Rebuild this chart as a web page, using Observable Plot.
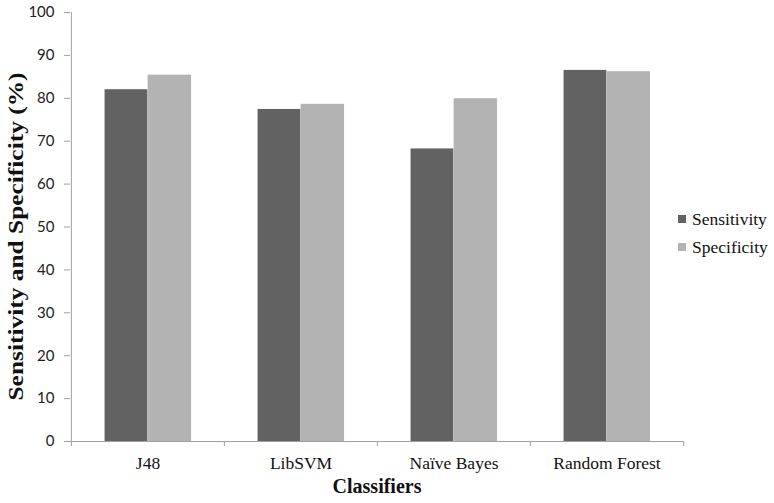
<!DOCTYPE html>
<html>
<head>
<meta charset="utf-8">
<script src="https://cdn.jsdelivr.net/npm/d3@7"></script>
<script src="https://cdn.jsdelivr.net/npm/@observablehq/plot@0.6"></script>
<style>
  html, body { margin: 0; padding: 0; background: #fff; }
  #wrap { position: relative; width: 774px; height: 503px; }
  #legend { position: absolute; left: 678px; top: 205px; font-family: "Liberation Serif", "Times New Roman", serif; font-size: 17.5px; color: #111; }
  #legend .row { display: flex; align-items: center; height: 28px; }
  #legend .sw { width: 8px; height: 8px; margin-right: 6px; }
</style>
</head>
<body>
<div id="wrap"><div id="legend"></div></div>
<script>
const categories = ["J48", "LibSVM", "Naïve Bayes", "Random Forest"];
const series = ["Sensitivity", "Specificity"];
const sensitivity = [82.0, 77.4, 68.2, 86.5];
const specificity = [85.4, 78.6, 79.9, 86.2];
const yTicks = [0, 10, 20, 30, 40, 50, 60, 70, 80, 90, 100];
const colors = ["#626262", "#b3b3b3"];
const xTitle = "Classifiers";
const yTitle = "Sensitivity and Specificity (%)";

const W = 774, H = 503;
const mL = 70, mR = 91, mT = 12, mB = 62;
const bw = (W - mL - mR) / categories.length;

const sensData = categories.map((c, i) => ({category: c, value: sensitivity[i]}));
const specData = categories.map((c, i) => ({category: c, value: specificity[i]}));

const axisColor = "#a0a0a0";
const serif = "'Liberation Serif', 'Times New Roman', serif";

const chart = Plot.plot({
  width: W,
  height: H,
  marginLeft: mL,
  marginRight: mR,
  marginTop: mT,
  marginBottom: mB,
  x: {domain: categories, padding: 0, axis: null},
  y: {domain: [0, 100], axis: null},
  marks: [
    Plot.barY(sensData, {x: "category", y: "value", fill: colors[0], insetLeft: bw * 0.219, insetRight: bw * 0.5}),
    Plot.barY(specData, {x: "category", y: "value", fill: colors[1], insetLeft: bw * 0.5, insetRight: bw * 0.215}),
    Plot.ruleY([0], {stroke: axisColor, strokeWidth: 1}),
    Plot.ruleX([categories[0]], {y1: 0, y2: 100, dx: -bw / 2, stroke: axisColor}),
    Plot.axisY({ticks: yTicks, tickSize: 6, tickPadding: 10, stroke: axisColor, color: "#222", label: null,
      fontSize: 15, fontFamily: "Lato, 'Open Sans', sans-serif", tickFormat: d => d}),
    Plot.axisX({ticks: categories, tickSize: 5, text: null, label: null, dx: -bw / 2, stroke: axisColor}),
    Plot.axisX({ticks: [categories[categories.length - 1]], tickSize: 5, text: null, label: null, dx: bw / 2, stroke: axisColor}),
    Plot.axisX({ticks: categories, tickSize: 0, tickPadding: 15, fontSize: 17.5, color: "#111",
      fontFamily: serif, label: null}),
    Plot.text([xTitle], {frameAnchor: "bottom", dy: 45, textAnchor: "middle", lineAnchor: "middle", fontSize: 20, fontWeight: "bold",
      fontFamily: serif, fill: "#111"}),
    Plot.text([yTitle], {frameAnchor: "left", dx: -54, dy: 9.5, rotate: -90, textAnchor: "middle", lineAnchor: "middle", fontSize: 21, fontWeight: "bold",
      fontFamily: serif, fill: "#111"})
  ]
});
document.getElementById("wrap").prepend(chart);

// stretch the rotated y title along its length, as in the reference
d3.select(chart).selectAll("text").filter(function() { return this.textContent === yTitle; })
  .attr("textLength", 328).attr("lengthAdjust", "spacingAndGlyphs");

const legend = document.getElementById("legend");
series.forEach((s, i) => {
  const row = document.createElement("div");
  row.className = "row";
  const sw = document.createElement("span");
  sw.className = "sw";
  sw.style.background = colors[i];
  const t = document.createElement("span");
  t.textContent = s;
  row.appendChild(sw);
  row.appendChild(t);
  legend.appendChild(row);
});
</script>
</body>
</html>
